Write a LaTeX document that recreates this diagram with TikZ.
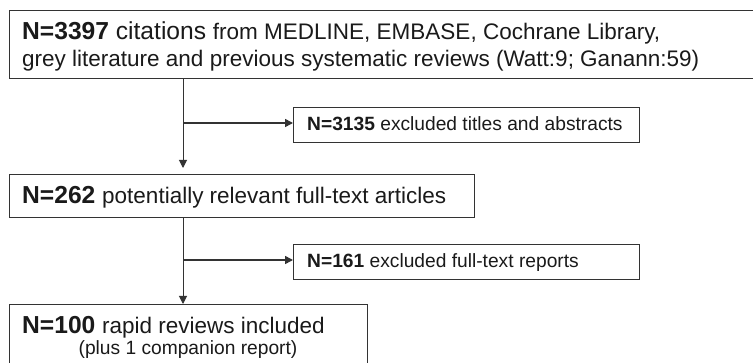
\documentclass[tikz,border=0pt]{standalone}
\usepackage{fontspec}
\setmainfont{Liberation Sans}
\usetikzlibrary{arrows.meta}
\definecolor{ink}{HTML}{1A1A1A}
\definecolor{edge}{HTML}{333333}
\newcommand{\fsbig}{\fontsize{24.6}{28}\selectfont}
\newcommand{\fsmid}{\fontsize{22.5}{26}\selectfont}
\newcommand{\fssml}{\fontsize{19.2}{22}\selectfont}
\begin{document}
\begin{tikzpicture}[x=1pt,y=-1pt,
  boxnode/.style={draw=edge,line width=1.1pt,inner sep=0pt,anchor=north west},
  txt/.style={inner sep=0pt,anchor=base west,text=ink},
  flow/.style={draw=edge,line width=1pt,-{Triangle[length=8pt,width=8pt]}},
  branch/.style={draw=edge,line width=1.5pt,-{Triangle[length=8pt,width=8pt]}}]
\useasboundingbox (0,0) rectangle (753,363);
\fill[white] (0,0) rectangle (753,363);
% boxes
\node[boxnode,minimum width=760pt,minimum height=68pt] (b1) at (9,10) {};
\node[boxnode,minimum width=346pt,minimum height=35pt] (e1) at (293,107) {};
\node[boxnode,minimum width=465pt,minimum height=43pt] (b2) at (9,174) {};
\node[boxnode,minimum width=346pt,minimum height=35pt] (e2) at (293,244) {};
\node[boxnode,minimum width=358pt,minimum height=70pt] (b3) at (9,304) {};
% texts
\node[txt] (t1a) at (22,40) {\fsbig\textbf{N=3397} citations \fsmid from MEDLINE, EMBASE, Cochrane Library,};
\node[txt] (t1b) at (22,67) {\fsmid grey literature and previous systematic reviews (Watt:9; Ganann:59)};
\node[txt] (te1) at (307,131) {\fssml\textbf{N=3135} excluded titles and abstracts};
\node[txt] (t2) at (22,204) {\fsbig\textbf{N=262} \fsmid potentially relevant full-text articles};
\node[txt] (te2) at (307,268) {\fssml\textbf{N=161} excluded full-text reports};
\node[txt] (t3a) at (22,334) {\fsbig\textbf{N=100} \fsmid rapid reviews included};
\node[inner sep=0pt,anchor=base,text=ink] (t3b) at (188,355) {\fssml (plus 1 companion report)};
% connectors
\coordinate (v) at (183,0);
\coordinate (j1) at (183,123);
\coordinate (j2) at (183,260);
\draw[flow,shorten >=6pt] (b1.south -| v) -- (b2.north -| v);
\draw[branch] (j1) -- (j1 -| e1.west);
\draw[flow] (b2.south -| v) -- (b3.north -| v);
\draw[branch] (j2) -- (j2 -| e2.west);
\end{tikzpicture}
\end{document}
